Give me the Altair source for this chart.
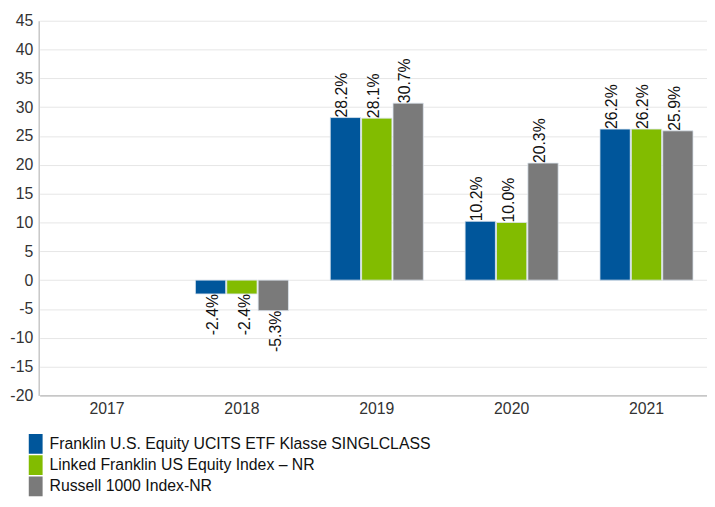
import altair as alt
import pandas as pd

years = ["2017", "2018", "2019", "2020", "2021"]
series = [
    "Franklin U.S. Equity UCITS ETF Klasse SINGLCLASS",
    "Linked Franklin US Equity Index – NR",
    "Russell 1000 Index-NR",
]
fund = [None, -2.4, 28.2, 10.2, 26.2]
linked = [None, -2.4, 28.1, 10.0, 26.2]
russell = [None, -5.3, 30.7, 20.3, 25.9]
colors = ["#00569b", "#82bc00", "#7a7a7a"]

rows = []
for s, vals in zip(series, [fund, linked, russell]):
    for y, v in zip(years, vals):
        if v is not None:
            rows.append({"year": y, "series": s, "value": v, "label": f"{v:.1f}%"})
df = pd.DataFrame(rows)

font = "Liberation Sans"

x = alt.X("year:N", scale=alt.Scale(domain=years, paddingInner=0.31, paddingOuter=0.155,
                                    range=[1, 683]),
          axis=alt.Axis(title=None, labelAngle=0, labelFontSize=16, labelColor="#333333",
                        labelFont=font, ticks=False, labelPadding=5, domainColor="#aaaaaa",
                        grid=False))
xo = alt.XOffset("series:N", sort=series, scale=alt.Scale(domain=series, paddingInner=0.035))
y = alt.Y("value:Q", scale=alt.Scale(domain=[-20, 45], nice=False, zero=False),
          axis=alt.Axis(title=None, values=list(range(-20, 50, 5)), labelFontSize=16,
                        labelExpr="'' + datum.value",
                        labelColor="#333333", labelFont=font, ticks=False, labelPadding=6,
                        domainColor="#aaaaaa", gridColor="#e6e6e6"))
color = alt.Color("series:N", sort=series,
                  scale=alt.Scale(domain=series, range=colors),
                  legend=alt.Legend(title=None, orient="none", legendX=-13, legendY=418,
                                    direction="vertical", labelFontSize=16, labelFont=font,
                                    labelColor="#111111", labelLimit=0,
                                    symbolType="M-0.7,-1H0.7V1H-0.7Z",
                                    symbolSize=400, symbolStrokeWidth=0, symbolOpacity=1,
                                    rowPadding=1.5, labelOffset=4, padding=0))

base = alt.Chart(df)
bars = base.mark_bar(stroke="#dde6ee", strokeWidth=0.8).encode(
    x=x, xOffset=xo, y=y, y2=alt.datum(0), color=color)

pos = base.transform_filter("datum.value >= 0").mark_text(
    angle=270, align="left", baseline="middle", dy=-3, fontSize=16, font=font, color="#111111"
).encode(x=x, xOffset=xo, y=y, text="label:N")
neg = base.transform_filter("datum.value < 0").mark_text(
    angle=270, align="right", baseline="middle", dy=3, fontSize=16, font=font, color="#111111"
).encode(x=x, xOffset=xo, y=y, text="label:N")

chart = alt.layer(bars, pos, neg).properties(
    width=676, height=379,
    autosize=alt.AutoSizeParams(type="none"),
    padding={"left": 31, "top": 10, "right": 0, "bottom": 110},
).configure_view(stroke=None)

chart.save("out.html", embed_options={"renderer": "svg", "actions": False})
